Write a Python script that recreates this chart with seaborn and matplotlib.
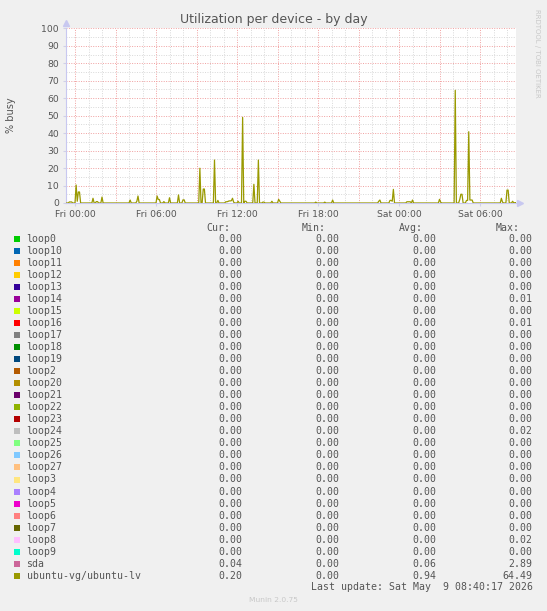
import matplotlib
matplotlib.use("Agg")
import matplotlib.pyplot as plt
from matplotlib.patches import Rectangle
import seaborn as sns
import pandas as pd

W, H = 547, 611

# ubuntu-vg/ubuntu-lv busy %, minutes from Fri 00:00 (5 min samples)
minutes = [-40, -30, -25, -20, -15, -10,
           0, 5, 10, 15, 20, 25,
           75, 80, 85, 90, 95, 100, 105,
           115, 120, 125,
           240, 245, 250,
           270, 275, 280, 285,
           360, 365, 370, 375, 380,
           390, 395, 400,
           415, 420, 425,
           455, 460, 465,
           475, 480, 485, 490,
           550, 555, 560, 565, 570, 575, 580,
           615, 620, 625,
           630, 635, 640,
           665, 670, 675, 680, 685, 690, 695, 700, 705, 710,
           720, 725, 730,
           740, 745, 750, 755, 760, 765,
           790, 795, 800,
           810, 815, 820,
           830, 835, 840, 845,
           870, 875, 880,
           900, 905, 910, 915,
           1065, 1070, 1075,
           1105, 1110, 1115,
           1140, 1145, 1150,
           1345, 1350, 1355, 1360,
           1395, 1400, 1405, 1410, 1415, 1420,
           1470, 1475, 1480, 1485, 1490, 1495, 1500, 1505,
           1615, 1620, 1625, 1630,
           1685, 1690, 1695,
           1705, 1710, 1715, 1720, 1725,
           1735, 1740, 1745, 1750, 1755, 1760, 1765, 1770,
           1890, 1895, 1900, 1905,
           1915, 1920, 1925, 1930,
           1940, 1945, 1950, 1955, 1960]
busy = [0, 0, 0.6, 0.6, 0.6, 0,
        0, 10.3, 1.0, 6.3, 6.3, 0,
        0, 2.7, 0, 0, 0.8, 0.8, 0,
        0, 3.4, 0,
        0, 1.7, 0,
        0, 1.0, 4.0, 0,
        0, 4.0, 2.0, 2.0, 0,
        0, 0.8, 0,
        0, 3.0, 0,
        0, 4.6, 0,
        0, 1.8, 1.8, 0,
        0, 19.9, 0, 0, 8.0, 8.0, 0,
        0, 24.6, 0,
        0, 1.5, 0,
        0, 0.7, 0.7, 0.9, 1.2, 1.2, 1.3, 2.7, 0.5, 0,
        0, 1.0, 0,
        0, 49.0, 0, 1.0, 1.0, 0,
        0, 10.7, 0,
        0, 24.6, 0,
        0, 0.5, 0.5, 0,
        0, 1.0, 0,
        0, 2.1, 1.0, 0,
        0, 0.5, 0,
        0, 0.5, 0,
        0, 1.7, 0,
        0, 1.0, 1.7, 0,
        0, 1.5, 1.5, 1.0, 7.8, 0,
        0, 0.7, 0.7, 0.7, 0.7, 0, 1.7, 0,
        0, 2.1, 0.5, 0,
        0, 64.5, 0,
        0, 2.0, 5.0, 5.0, 0,
        0, 1.5, 1.5, 40.8, 1.7, 1.7, 1.7, 0,
        0, 2.7, 0.5, 0,
        0, 7.4, 7.4, 0,
        0, 1.0, 0, 0.2, 0.2]

tick_minutes = [0, 360, 720, 1080, 1440, 1800]
tick_labels = ["Fri 00:00", "Fri 06:00", "Fri 12:00", "Fri 18:00", "Sat 00:00", "Sat 06:00"]

devices = ["loop0", "loop10", "loop11", "loop12", "loop13", "loop14", "loop15", "loop16",
           "loop17", "loop18", "loop19", "loop2", "loop20", "loop21", "loop22", "loop23",
           "loop24", "loop25", "loop26", "loop27", "loop3", "loop4", "loop5", "loop6",
           "loop7", "loop8", "loop9", "sda", "ubuntu-vg/ubuntu-lv"]
colors = ["#00CC00", "#0066B3", "#FF8000", "#FFCC00", "#330099", "#990099", "#CCFF00", "#FF0000",
          "#808080", "#008F00", "#00487D", "#B35A00", "#B38F00", "#6B006B", "#8FB300", "#B30000",
          "#BEBEBE", "#80FF80", "#80C9FF", "#FFC080", "#FFE680", "#AA80FF", "#EE00CC", "#FF8080",
          "#666600", "#FFBFFF", "#00FFCC", "#CC6699", "#999900"]
cur = [0.00] * 27 + [0.04, 0.20]
mins = [0.00] * 29
avg = [0.00] * 27 + [0.06, 0.94]
maxs = [0.00, 0.00, 0.00, 0.00, 0.00, 0.01, 0.00, 0.01, 0.00, 0.00,
        0.00, 0.00, 0.00, 0.00, 0.00, 0.00, 0.02, 0.00, 0.00, 0.00,
        0.00, 0.00, 0.00, 0.00, 0.00, 0.02, 0.00, 2.89, 64.49]

BG = "#F0F0F0"
TXT = "#555555"
MONO = "DejaVu Sans Mono"


def fx(px):
    return px / W


def fy(py):
    return 1 - py / H


fig = plt.figure(figsize=(W / 100, H / 100), dpi=100, facecolor=BG)
ax = fig.add_axes([fx(66), fy(203), 450 / W, 174.7 / H])
ax.set_facecolor("white")

df = pd.DataFrame({"t": minutes, "busy": busy})
sns.lineplot(data=df, x="t", y="busy", ax=ax, color="#999900", linewidth=0.9,
             estimator=None, zorder=5)

ax.set_xlim(-40, 1960)
ax.set_ylim(0, 100)

# grid: hourly / 5% minor, 3h / 10% major
dot = (0, (1, 1.5))
for m in range(0, 1960, 60):
    major = m % 180 == 0
    ax.axvline(m, color="#F0A0A0" if major else "#D8D8D8", lw=0.7, ls=dot, zorder=1)
for v in range(5, 101, 5):
    major = v % 10 == 0
    ax.axhline(v, color="#F0A0A0" if major else "#D8D8D8", lw=0.7, ls=dot, zorder=1)

ax.set_xticks(tick_minutes)
ax.set_xticklabels(tick_labels)
ax.set_yticks(range(0, 101, 10))
ax.tick_params(axis="both", length=2, color="#D0D0E8", labelcolor=TXT, labelsize=6.7, pad=3)
ax.set_xlabel("")
ax.set_ylabel("")
for s in ["top", "right"]:
    ax.spines[s].set_visible(False)
for s in ["left", "bottom"]:
    ax.spines[s].set_color("#C8C8F0")
    ax.spines[s].set_linewidth(0.8)
ax.plot([0], [1.03], marker="^", ms=4, color="#C8C8F0", transform=ax.transAxes, clip_on=False)
ax.plot([1.008], [0], marker=">", ms=4, color="#C8C8F0", transform=ax.transAxes, clip_on=False)

fig.text(fx(274), fy(19), "Utilization per device - by day", ha="center", va="center",
         fontsize=9, color=TXT)
fig.text(fx(11), fy(115), "% busy", rotation=90, ha="center", va="center",
         fontsize=7, color=TXT)
fig.text(fx(537), fy(53), "RRDTOOL / TOBI OETIKER", rotation=270, ha="center", va="center",
         fontsize=5, color="#C8C8C8")

# legend table
fs = 7.1
heads = ["Cur:", "Min:", "Avg:", "Max:"]
head_x = [230.3, 326, 423, 520]
col_x = [242.5, 339, 436, 532.8]
for h, x in zip(heads, head_x):
    fig.text(fx(x), fy(228.3), h, ha="right", va="center", fontsize=fs, family=MONO, color=TXT)

for i, name in enumerate(devices):
    y = 239.3 + 12.01 * i
    fig.patches.append(Rectangle((fx(14), fy(y + 3)), 6 / W, 6 / H, transform=fig.transFigure,
                                 facecolor=colors[i], edgecolor="none"))
    fig.text(fx(26.5), fy(y), name, ha="left", va="center", fontsize=fs, family=MONO, color=TXT)
    for x, vals in zip(col_x, [cur, mins, avg, maxs]):
        fig.text(fx(x), fy(y), f"{vals[i]:.2f}", ha="right", va="center", fontsize=fs,
                 family=MONO, color=TXT)

fig.text(fx(532.8), fy(587.3), "Last update: Sat May  9 08:40:17 2026", ha="right", va="center",
         fontsize=fs, family=MONO, color=TXT)
fig.text(fx(273), fy(600), "Munin 2.0.75", ha="center", va="center", fontsize=5.4, color="#C8C8C8")

fig.savefig("out.png", dpi=100, facecolor=BG)
